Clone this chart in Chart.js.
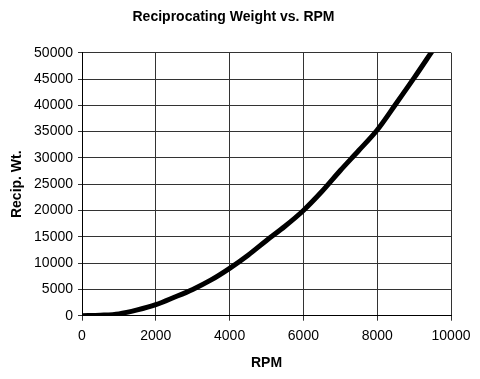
<!DOCTYPE html>
<html>
<head>
<meta charset="utf-8">
<script src="https://cdn.jsdelivr.net/npm/chart.js@4/dist/chart.umd.min.js"></script>
<style>
  html, body { margin: 0; padding: 0; background: #fff; }
  canvas { display: block; }
</style>
</head>
<body>
<canvas id="c" width="480" height="379"></canvas>
<script>
const rpm = [0, 500, 1000, 1500, 2000, 2500, 3000, 3500, 4000, 4500, 5000, 5500, 6000, 6500, 7000, 7500, 8000, 8500, 9000, 9500];
const recipWt = [0, 100, 350, 1100, 2100, 3500, 5000, 6800, 9000, 11500, 14300, 17000, 20000, 23600, 27600, 31400, 35300, 40200, 45200, 50400];
const xTicks = [0, 2000, 4000, 6000, 8000, 10000];
const yTicks = [0, 5000, 10000, 15000, 20000, 25000, 30000, 35000, 40000, 45000, 50000];
const chartTitle = 'Reciprocating Weight vs. RPM';
const xTitle = 'RPM';
const yTitle = 'Recip. Wt.';

const FONT = 'Arial, "Liberation Sans", Helvetica, sans-serif';

new Chart(document.getElementById('c'), {
  type: 'line',
  data: {
    datasets: [{
      data: rpm.map((x, i) => ({ x: x, y: recipWt[i] })),
      borderColor: '#000',
      borderWidth: 5,
      pointRadius: 0,
      cubicInterpolationMode: 'monotone',
      fill: false
    }]
  },
  options: {
    responsive: false,
    animation: false,
    events: [],
    layout: { padding: { left: 16, right: 29, top: 0, bottom: 0 } },
    plugins: {
      legend: { display: false },
      tooltip: { enabled: false },
      title: {
        display: true,
        text: chartTitle,
        color: '#000',
        font: { family: FONT, size: 14, weight: 'bold', lineHeight: 1.2 },
        padding: { top: 9, bottom: 26.9 }
      }
    },
    scales: {
      x: {
        type: 'linear',
        min: 0, max: 10000,
        afterBuildTicks: s => { s.ticks = xTicks.map(v => ({ value: v })); },
        afterFit: s => { s.height = 63.3; },
        ticks: {
          color: '#000',
          font: { family: FONT, size: 14 },
          padding: 7,
          maxRotation: 0,
          callback: v => String(v)
        },
        grid: { color: '#333', lineWidth: 1, tickLength: 5, tickColor: '#333' },
        border: { color: '#000', width: 1 },
        title: {
          display: true,
          text: xTitle,
          color: '#000',
          font: { family: FONT, size: 14, weight: 'bold', lineHeight: 1.2 },
          padding: { top: 0, bottom: 7.3 }
        }
      },
      y: {
        type: 'linear',
        min: 0, max: 50000,
        afterBuildTicks: s => { s.ticks = yTicks.map(v => ({ value: v })); },
        afterFit: s => { s.width = 66; },
        ticks: {
          color: '#000',
          font: { family: FONT, size: 14 },
          padding: 5,
          callback: v => String(v)
        },
        grid: { color: '#333', lineWidth: 1, tickLength: 4, tickColor: '#333' },
        border: { color: '#000', width: 1 },
        title: {
          display: true,
          text: yTitle,
          color: '#000',
          font: { family: FONT, size: 14, weight: 'bold', lineHeight: 1.2 },
          padding: { top: -7, bottom: 0 }
        }
      }
    }
  }
});
</script>
</body>
</html>
